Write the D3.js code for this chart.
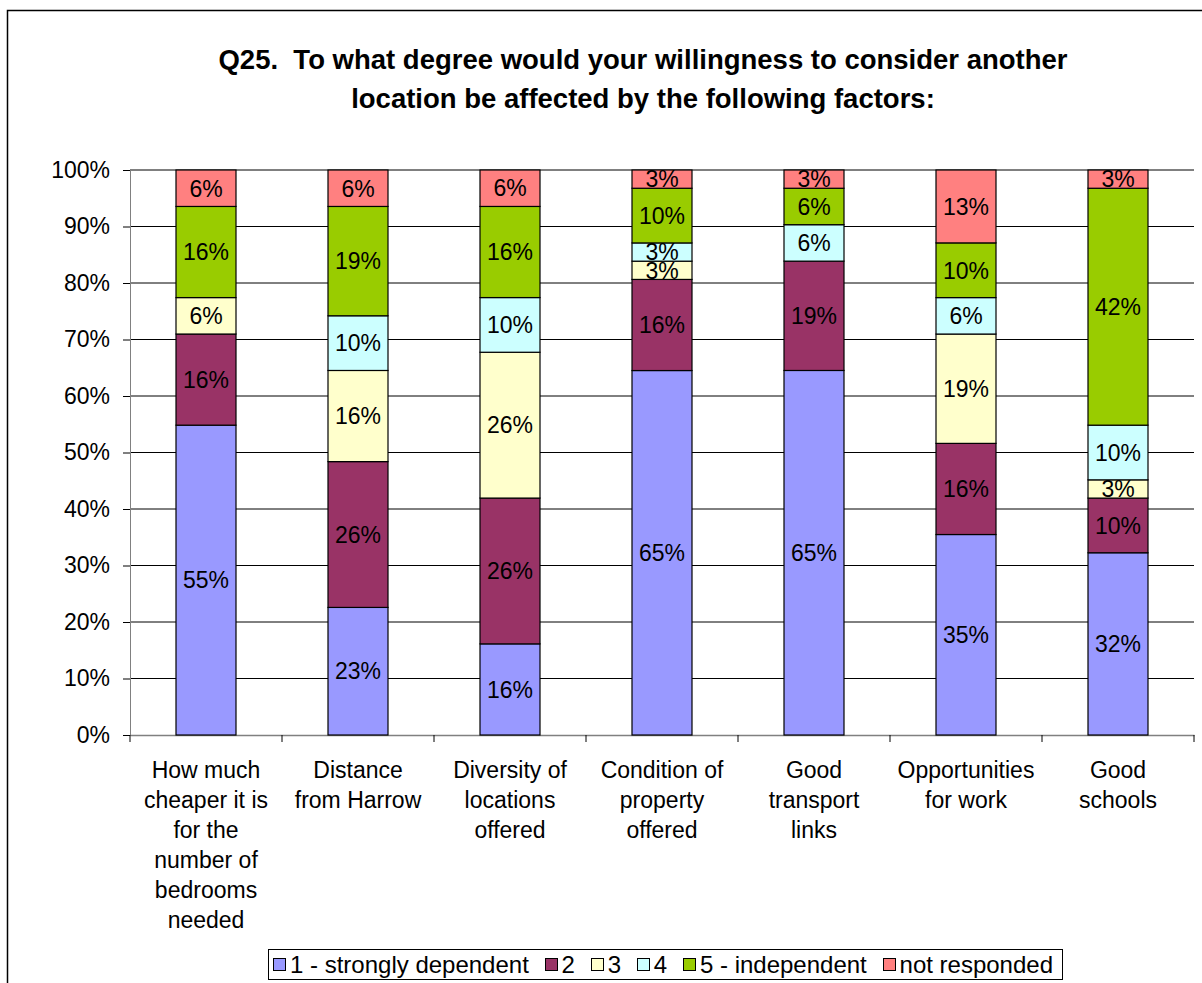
<!DOCTYPE html>
<html>
<head>
<meta charset="utf-8">
<script src="https://cdn.jsdelivr.net/npm/d3@7/dist/d3.min.js"></script>
<style>
  html, body { margin: 0; padding: 0; background: #fff; }
  svg { display: block; font-family: "Liberation Sans", Arial, sans-serif; }
  .title { white-space: pre; }
</style>
</head>
<body>
<svg id="chart" width="1202" height="983"></svg>
<script>
// Factors asked about in Q25 (axis categories, one line per entry)
const categories = [
  ["How much", "cheaper it is", "for the", "number of", "bedrooms", "needed"],
  ["Distance", "from Harrow"],
  ["Diversity of", "locations", "offered"],
  ["Condition of", "property", "offered"],
  ["Good", "transport", "links"],
  ["Opportunities", "for work"],
  ["Good", "schools"]
];

// Share of respondents (%) per answer, one array per category order above
const strongly = [54.84, 22.58, 16.13, 64.52, 64.52, 35.48, 32.26];
const two      = [16.13, 25.81, 25.81, 16.13, 19.35, 16.13,  9.68];
const three    = [ 6.45, 16.13, 25.81,  3.23,  0.00, 19.35,  3.23];
const four     = [ 0.00,  9.68,  9.68,  3.23,  6.45,  6.45,  9.68];
const indep    = [16.13, 19.35, 16.13,  9.68,  6.45,  9.68, 41.94];
const noResp   = [ 6.45,  6.45,  6.45,  3.23,  3.23, 12.90,  3.23];

const seriesNames = ["1 - strongly dependent", "2", "3", "4", "5 - independent", "not responded"];
const seriesValues = [strongly, two, three, four, indep, noResp];
const seriesColors = ["#9999FF", "#993366", "#FFFFCC", "#CCFFFF", "#99CC00", "#FF8080"];

const yTicks = [0, 0.1, 0.2, 0.3, 0.4, 0.5, 0.6, 0.7, 0.8, 0.9, 1.0];
const titleLines = [
  "Q25.  To what degree would your willingness to consider another",
  "location be affected by the following factors:"
];

const svg = d3.select("#chart");

// Outer chart frame (runs off the right and bottom edges)
svg.append("rect")
  .attr("x", 7.5).attr("y", 10.5)
  .attr("width", 1210).attr("height", 990)
  .attr("fill", "#fff").attr("stroke", "#000").attr("stroke-width", 1.5);

// Title
svg.append("g").selectAll("text")
  .data(titleLines).join("text")
  .attr("class", "title")
  .attr("x", 643)
  .attr("y", (d, i) => 69 + i * 39)
  .attr("text-anchor", "middle")
  .attr("font-size", 27.5)
  .attr("font-weight", "bold")
  .attr("fill", "#000")
  .text(d => d);

const margin = { left: 130, right: 1194, top: 170, bottom: 735 };

const rows = categories.map((c, i) => {
  const r = { idx: i };
  seriesNames.forEach((s, k) => { r[s] = seriesValues[k][i]; });
  return r;
});

const stack = d3.stack().keys(seriesNames).offset(d3.stackOffsetExpand);
const stacked = stack(rows);

const x = d3.scaleBand()
  .domain(d3.range(categories.length))
  .range([margin.left, margin.right])
  .paddingInner(0).paddingOuter(0);

const y = d3.scaleLinear().domain([0, 1]).range([margin.bottom, margin.top]);

const barW = 60;
const fontMain = 23;
const fontLegend = 24;

// Gridlines
svg.append("g").selectAll("line")
  .data(yTicks.filter(t => t > 0)).join("line")
  .attr("x1", margin.left).attr("x2", margin.right)
  .attr("y1", d => y(d)).attr("y2", d => y(d))
  .attr("stroke", "#000").attr("stroke-width", 1);

// Y axis
const yAxis = d3.axisLeft(y)
  .tickValues(yTicks)
  .tickFormat(d3.format(".0%"))
  .tickSize(7)
  .tickPadding(13);
const gy = svg.append("g")
  .attr("transform", `translate(${margin.left},0)`)
  .call(yAxis);
gy.select(".domain").attr("stroke", "#808080");
gy.selectAll(".tick line").attr("stroke", "#000");
gy.selectAll(".tick text")
  .attr("font-size", fontMain).attr("fill", "#000")
  .attr("font-family", "Liberation Sans, Arial, sans-serif");

// X axis with ticks between categories
const xAxis = d3.axisBottom(x).tickSize(0).tickFormat("");
const gx = svg.append("g")
  .attr("transform", `translate(0,${margin.bottom})`)
  .call(xAxis);
gx.select(".domain").attr("stroke", "#808080").attr("stroke-width", 1.5);
gx.selectAll(".tick").remove();
gx.selectAll("line.sep")
  .data(d3.range(categories.length + 1)).join("line")
  .attr("class", "sep")
  .attr("x1", i => margin.left + i * x.bandwidth())
  .attr("x2", i => margin.left + i * x.bandwidth())
  .attr("y1", 0).attr("y2", 7)
  .attr("stroke", "#000");

// Bars
const fmt = d3.format(".0%");
const layers = svg.append("g").selectAll("g")
  .data(stacked).join("g")
  .attr("fill", (d, k) => seriesColors[k]);

layers.selectAll("rect")
  .data(d => d.filter(p => p[1] - p[0] > 0))
  .join("rect")
  .attr("x", d => x(d.data.idx) + x.bandwidth() / 2 - barW / 2)
  .attr("width", barW)
  .attr("y", d => y(d[1]))
  .attr("height", d => y(d[0]) - y(d[1]))
  .attr("stroke", "#000").attr("stroke-width", 1.2);

// Value labels
layers.selectAll("text")
  .data(d => d.filter(p => p[1] - p[0] > 0))
  .join("text")
  .attr("x", d => x(d.data.idx) + x.bandwidth() / 2)
  .attr("y", d => (y(d[0]) + y(d[1])) / 2)
  .attr("dy", "0.36em")
  .attr("text-anchor", "middle")
  .attr("font-size", fontMain)
  .attr("fill", "#000")
  .text(d => fmt(d[1] - d[0]));

// Category labels
const catG = svg.append("g").selectAll("text")
  .data(categories).join("text")
  .attr("text-anchor", "middle")
  .attr("font-size", fontMain)
  .attr("fill", "#000")
  .attr("transform", (d, i) => `translate(${x(i) + x.bandwidth() / 2},778)`);
catG.selectAll("tspan")
  .data(d => d).join("tspan")
  .attr("x", 0)
  .attr("y", (d, j) => j * 30)
  .text(d => d);

// Legend: box spans a fixed width, items spread evenly inside it
const legendLeft = 268, legendRight = 1062;
const legend = svg.append("g");
legend.append("rect")
  .attr("x", legendLeft + 0.5).attr("y", 949.5)
  .attr("width", legendRight - legendLeft).attr("height", 30)
  .attr("fill", "#fff").attr("stroke", "#000").attr("stroke-width", 1);

const sq = 12, sqGap = 5, padL = 5, padR = 9;
const texts = seriesNames.map((name, k) =>
  legend.append("text")
    .attr("y", 972.5)
    .attr("font-size", fontLegend).attr("fill", "#000")
    .text(name));
const textW = texts.map(t => t.node().getComputedTextLength());
const used = d3.sum(textW) + seriesNames.length * (sq + sqGap) + padL + padR;
const itemGap = (legendRight - legendLeft - used) / (seriesNames.length - 1);

let lx = legendLeft + padL;
seriesNames.forEach((name, k) => {
  legend.append("rect")
    .attr("x", Math.round(lx) + 0.5).attr("y", 958.5)
    .attr("width", sq).attr("height", sq)
    .attr("fill", seriesColors[k]).attr("stroke", "#000").attr("stroke-width", 1);
  texts[k].attr("x", lx + sq + sqGap);
  lx += sq + sqGap + textW[k] + itemGap;
});
</script>
</body>
</html>
